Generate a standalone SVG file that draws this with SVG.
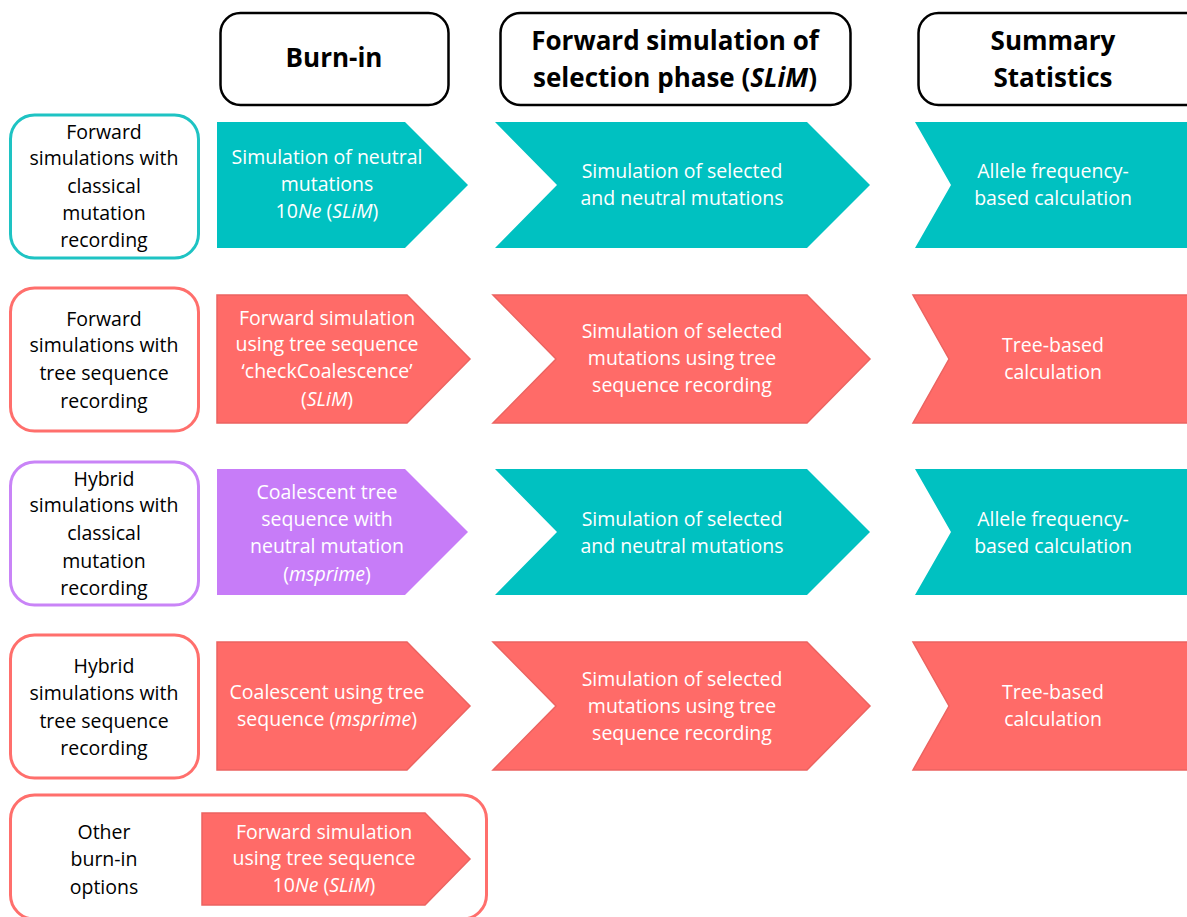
<svg xmlns="http://www.w3.org/2000/svg" width="1187" height="917" viewBox="0 0 1187 917">
<style>
text{font-family:"Open Sans","Liberation Sans",sans-serif;text-anchor:middle}
.hdr{fill:#fff;stroke:#000;stroke-width:2.5}
.ht{font-size:26px;font-weight:bold;fill:#000}
.lb{fill:#fff;stroke-width:3}
.lt{font-size:19.5px;fill:#000}
.wt{font-size:19.5px;fill:#fff}
.teal{fill:#00C1C1}
.red{fill:#FF6B68;stroke:#EC6360;stroke-width:1.5}
.pur{fill:#C77CF8}
.it{font-style:italic}
</style>
<rect width="1187" height="917" fill="#fff"/>
<g id="connectors"/>
<g id="hdr-burnin"><rect class="hdr" x="220.5" y="13" width="228" height="92" rx="20"/><text class="ht" x="334" y="67">Burn-in</text></g>
<g id="hdr-forward"><rect class="hdr" x="500.5" y="13" width="350" height="92" rx="20"/><text class="ht" x="675" y="50">Forward simulation of</text><text class="ht" x="675" y="87">selection phase (<tspan class="it">SLiM</tspan>)</text></g>
<g id="hdr-summary"><rect class="hdr" x="918.5" y="13" width="290" height="92" rx="20"/><text class="ht" x="1053" y="50">Summary</text><text class="ht" x="1053" y="87">Statistics</text></g>

<g id="row1-label"><rect class="lb" x="10.5" y="115" width="188" height="143" rx="24" stroke="#1EC3C3"/>
<text class="lt" x="104"><tspan x="104" y="139">Forward</tspan><tspan x="104" y="165">simulations with</tspan><tspan x="104" y="193">classical</tspan><tspan x="104" y="220">mutation</tspan><tspan x="104" y="247">recording</tspan></text></g>
<g id="row1-burnin"><polygon class="teal" points="217,122 405,122 468,185 405,248 217,248"/>
<text class="wt" x="327"><tspan x="327" y="164">Simulation of neutral</tspan><tspan x="327" y="191">mutations</tspan><tspan x="327" y="218">10<tspan class="it">Ne</tspan> (<tspan class="it">SLiM</tspan>)</tspan></text></g>
<g id="row1-forward"><polygon class="teal" points="495,122 807,122 870,185 807,248 495,248 557,185"/>
<text class="wt" x="682"><tspan x="682" y="178">Simulation of selected</tspan><tspan x="682" y="205">and neutral mutations</tspan></text></g>
<g id="row1-summary"><polygon class="teal" points="915,122 1187,122 1187,248 915,248 951,185"/>
<text class="wt" x="1053"><tspan x="1053" y="178">Allele frequency-</tspan><tspan x="1053" y="205">based calculation</tspan></text></g>

<g id="row2-label"><rect class="lb" x="10.5" y="288" width="188" height="143" rx="24" stroke="#FF6F6C"/>
<text class="lt" x="104"><tspan x="104" y="326">Forward</tspan><tspan x="104" y="352">simulations with</tspan><tspan x="104" y="380">tree sequence</tspan><tspan x="104" y="408">recording</tspan></text></g>
<g id="row2-burnin"><polygon class="red" points="217,295 407,295 470,359 407,423 217,423"/>
<text class="wt" x="327"><tspan x="327" y="325">Forward simulation</tspan><tspan x="327" y="351">using tree sequence</tspan><tspan x="327" y="378">‘checkCoalescence’</tspan><tspan x="327" y="406">(<tspan class="it">SLiM</tspan>)</tspan></text></g>
<g id="row2-forward"><polygon class="red" points="493,295 807,295 870,359 807,423 493,423 556,359"/>
<text class="wt" x="682"><tspan x="682" y="338">Simulation of selected</tspan><tspan x="682" y="365">mutations using tree</tspan><tspan x="682" y="392">sequence recording</tspan></text></g>
<g id="row2-summary"><polygon class="red" points="913,295 1188,295 1188,423 913,423 949,359"/>
<text class="wt" x="1053"><tspan x="1053" y="352">Tree-based</tspan><tspan x="1053" y="379">calculation</tspan></text></g>

<g id="row3-label"><rect class="lb" x="10.5" y="462" width="188" height="143" rx="24" stroke="#C984F7"/>
<text class="lt" x="104"><tspan x="104" y="486">Hybrid</tspan><tspan x="104" y="512">simulations with</tspan><tspan x="104" y="540">classical</tspan><tspan x="104" y="568">mutation</tspan><tspan x="104" y="595">recording</tspan></text></g>
<g id="row3-burnin"><polygon class="pur" points="217,469 405,469 468,532 405,595 217,595"/>
<text class="wt" x="327"><tspan x="327" y="499">Coalescent tree</tspan><tspan x="327" y="526">sequence with</tspan><tspan x="327" y="553">neutral mutation</tspan><tspan x="327" y="581">(<tspan class="it">msprime</tspan>)</tspan></text></g>
<g id="row3-forward"><polygon class="teal" points="495,469 807,469 870,532 807,595 495,595 557,532"/>
<text class="wt" x="682"><tspan x="682" y="526">Simulation of selected</tspan><tspan x="682" y="553">and neutral mutations</tspan></text></g>
<g id="row3-summary"><polygon class="teal" points="915,469 1187,469 1187,595 915,595 951,532"/>
<text class="wt" x="1053"><tspan x="1053" y="526">Allele frequency-</tspan><tspan x="1053" y="553">based calculation</tspan></text></g>

<g id="row4-label"><rect class="lb" x="10.5" y="635" width="188" height="143" rx="24" stroke="#FF6F6C"/>
<text class="lt" x="104"><tspan x="104" y="673">Hybrid</tspan><tspan x="104" y="700">simulations with</tspan><tspan x="104" y="728">tree sequence</tspan><tspan x="104" y="755">recording</tspan></text></g>
<g id="row4-burnin"><polygon class="red" points="217,642 407,642 470,706 407,770 217,770"/>
<text class="wt" x="327"><tspan x="327" y="699">Coalescent using tree</tspan><tspan x="327" y="726">sequence (<tspan class="it">msprime</tspan>)</tspan></text></g>
<g id="row4-forward"><polygon class="red" points="493,642 807,642 870,706 807,770 493,770 556,706"/>
<text class="wt" x="682"><tspan x="682" y="686">Simulation of selected</tspan><tspan x="682" y="713">mutations using tree</tspan><tspan x="682" y="740">sequence recording</tspan></text></g>
<g id="row4-summary"><polygon class="red" points="913,642 1188,642 1188,770 913,770 949,706"/>
<text class="wt" x="1053"><tspan x="1053" y="699">Tree-based</tspan><tspan x="1053" y="726">calculation</tspan></text></g>

<g id="row5-label"><rect class="lb" x="10.5" y="795" width="476" height="124" rx="24" stroke="#FF6F6C"/>
<text class="lt" x="104"><tspan x="104" y="839">Other</tspan><tspan x="104" y="866">burn-in</tspan><tspan x="104" y="894">options</tspan></text></g>
<g id="row5-burnin"><polygon class="red" points="202,813 425,813 470,859 425,905 202,905"/>
<text class="wt" x="324"><tspan x="324" y="839">Forward simulation</tspan><tspan x="324" y="865">using tree sequence</tspan><tspan x="324" y="892">10<tspan class="it">Ne</tspan> (<tspan class="it">SLiM</tspan>)</tspan></text></g>
</svg>
